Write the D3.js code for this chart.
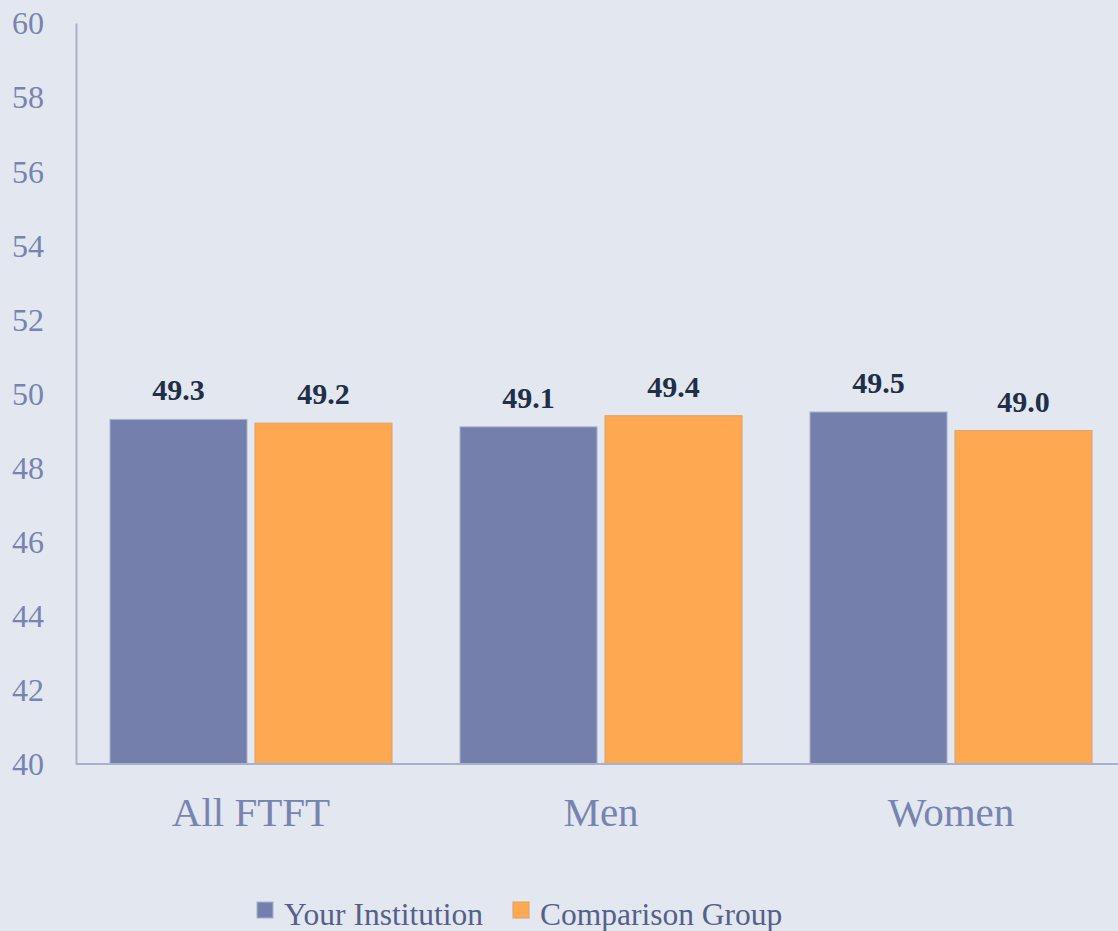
<!DOCTYPE html>
<html>
<head>
<meta charset="utf-8">
<script src="https://cdn.jsdelivr.net/npm/d3@7"></script>
<style>
  html, body { margin: 0; padding: 0; background: #e3e7ef; }
  svg { display: block; }
  svg text { font-family: "Liberation Serif", "Times New Roman", Times, "DejaVu Serif", serif; }
</style>
</head>
<body>
<svg width="1118" height="931"></svg>
<script>
// chart data
const categories = ["All FTFT", "Men", "Women"];
const seriesNames = ["Your Institution", "Comparison Group"];
const yourInstitution = [49.3, 49.1, 49.5];
const comparisonGroup = [49.2, 49.4, 49.0];
const yTicks = [40, 42, 44, 46, 48, 50, 52, 54, 56, 58, 60];

const colors = { "Your Institution": "#7480ab", "Comparison Group": "#ffa852" };
const strokes = { "Your Institution": "#aab1cf", "Comparison Group": "#d9a26c" };

const rows = categories.map((c, i) => ({
    category: c,
    values: [
        { series: seriesNames[0], value: yourInstitution[i] },
        { series: seriesNames[1], value: comparisonGroup[i] }
    ]
}));

const svg = d3.select("svg");
const plotLeft = 76, plotRight = 1126, plotTop = 23, plotBottom = 764;

const x0 = d3.scaleBand().domain(categories).range([plotLeft, plotRight]).padding(0);
const x1 = d3.scaleBand().domain(seriesNames).range([34, 316]).paddingInner(0.055).paddingOuter(0);
const y = d3.scaleLinear().domain([40, 60]).range([plotBottom, plotTop]);

// y axis
const yAxis = svg.append("g")
    .attr("transform", `translate(${plotLeft},0)`)
    .call(d3.axisLeft(y).tickValues(yTicks).tickSize(0).tickPadding(32).tickFormat(d3.format("d")));
yAxis.attr("font-family", null);
yAxis.select(".domain").attr("stroke", "#a9b0cc").attr("stroke-width", 2);
yAxis.selectAll("text")
    .attr("fill", "#7884b0")
    .style("font-size", "32px")
    .attr("dy", "0.34em");

// bars
const groups = svg.append("g").selectAll("g")
    .data(rows)
    .join("g")
    .attr("transform", d => `translate(${x0(d.category)},0)`);

groups.selectAll("rect")
    .data(d => d.values)
    .join("rect")
    .attr("x", d => x1(d.series))
    .attr("y", d => y(d.value))
    .attr("width", x1.bandwidth())
    .attr("height", d => y(40) - y(d.value))
    .attr("fill", d => colors[d.series])
    .attr("stroke", d => strokes[d.series])
    .attr("stroke-width", 1);

groups.selectAll("text.val")
    .data(d => d.values)
    .join("text")
    .attr("class", "val")
    .attr("x", d => x1(d.series) + x1.bandwidth() / 2)
    .attr("y", d => y(d.value) - 19)
    .attr("text-anchor", "middle")
    .attr("fill", "#1f2f48")
    .style("font-size", "30px")
    .style("font-weight", "bold")
    .text(d => d.value.toFixed(1));

// x axis line
svg.append("line")
    .attr("x1", plotLeft).attr("x2", 1118)
    .attr("y1", y(40)).attr("y2", y(40))
    .attr("stroke", "#a9b0cc").attr("stroke-width", 2);

// category labels
svg.append("g").selectAll("text")
    .data(categories)
    .join("text")
    .attr("x", d => x0(d) + x0.bandwidth() / 2)
    .attr("y", 826)
    .attr("text-anchor", "middle")
    .attr("fill", "#7884b0")
    .style("font-size", "41px")
    .text(d => d);

// legend
const legendItems = [
    { name: seriesNames[0], x: 257 },
    { name: seriesNames[1], x: 513 }
];
const legend = svg.append("g").selectAll("g")
    .data(legendItems)
    .join("g")
    .attr("transform", d => `translate(${d.x},902)`);
legend.append("rect")
    .attr("width", 16).attr("height", 16)
    .attr("fill", d => colors[d.name])
    .attr("stroke", d => strokes[d.name]);
legend.append("text")
    .attr("x", 27).attr("y", 23)
    .attr("fill", "#55608a")
    .style("font-size", "31.5px")
    .text(d => d.name);
</script>
</body>
</html>
